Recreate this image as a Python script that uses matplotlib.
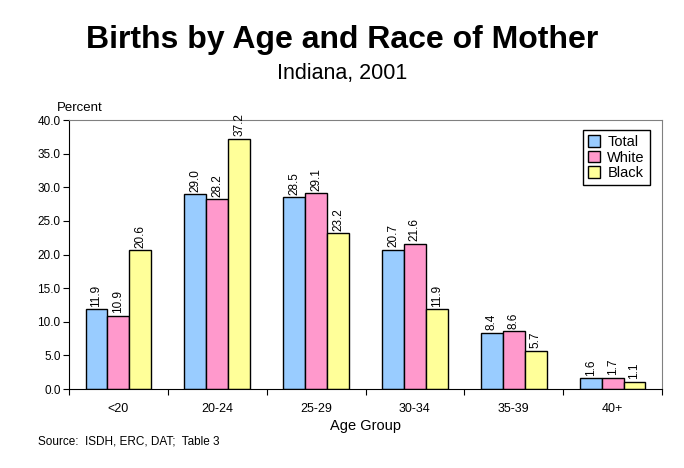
import matplotlib
matplotlib.use("Agg")
import matplotlib.pyplot as plt
import numpy as np

plt.rcParams['font.family'] = ['Liberation Sans', 'DejaVu Sans']

categories = ["<20", "20-24", "25-29", "30-34", "35-39", "40+"]
series_names = ["Total", "White", "Black"]
total = [11.9, 29.0, 28.5, 20.7, 8.4, 1.6]
white = [10.9, 28.2, 29.1, 21.6, 8.6, 1.7]
black = [20.6, 37.2, 23.2, 11.9, 5.7, 1.1]
colors = ["#99CCFF", "#FF99CC", "#FFFF99"]
yticks = [0, 5, 10, 15, 20, 25, 30, 35, 40]

fig = plt.figure(figsize=(6.84, 4.68), dpi=100)
ax = fig.add_axes([69/684, 1-389/468, (662-69)/684, (389-120)/468])

x = np.arange(len(categories))
w = 0.222
for i, (vals, name, c) in enumerate(zip([total, white, black], series_names, colors)):
    pos = x + (i - 1) * w
    ax.bar(pos, vals, w, color=c, edgecolor='black', linewidth=1, label=name)
    for p, v in zip(pos, vals):
        ax.text(p, v + 0.35, f"{v:.1f}", rotation=90, ha='center', va='bottom', fontsize=8.5)

ax.set_xlim(-0.5, len(categories) - 0.5)
ax.set_ylim(0, 40)
ax.set_yticks(yticks)
ax.set_yticklabels([f"{t:.1f}" for t in yticks], fontsize=8.5)
ax.set_xticks(np.arange(len(categories) + 1) - 0.5, minor=False)
ax.set_xticklabels([])
ax.set_xticks(x, minor=True)
ax.set_xticklabels(categories, minor=True, fontsize=9)
ax.tick_params(axis='x', which='major', direction='out', length=4)
ax.tick_params(axis='x', which='minor', length=0, pad=10)
ax.tick_params(axis='y', direction='out', length=4, pad=2)
for s in ['top', 'right']:
    ax.spines[s].set_color('#808080')
for s in ['left', 'bottom']:
    ax.spines[s].set_color('black')

ax.set_xlabel("Age Group", fontsize=10.5, labelpad=3)
fig.text(57/684, 1-108/468, "Percent", fontsize=9.5, ha='left', va='center')

leg = ax.legend(loc='upper right', bbox_to_anchor=(1-12/593, 1-10/269), fontsize=10.5,
                frameon=True, fancybox=False, edgecolor='black', framealpha=1,
                handlelength=0.8, handleheight=0.8, handletextpad=0.5,
                borderpad=0.35, labelspacing=0.1, borderaxespad=0)
leg.get_frame().set_linewidth(1)

fig.text(0.5, 1-40/468, "Births by Age and Race of Mother", fontsize=23, fontweight='bold',
         ha='center', va='center')
fig.text(0.5, 1-73/468, "Indiana, 2001", fontsize=15.5, ha='center', va='center')
fig.text(38/684, 1-442/468, "Source:  ISDH, ERC, DAT;  Table 3", fontsize=8.5, ha='left', va='center')

fig.savefig("out.png", dpi=100, facecolor='white')
